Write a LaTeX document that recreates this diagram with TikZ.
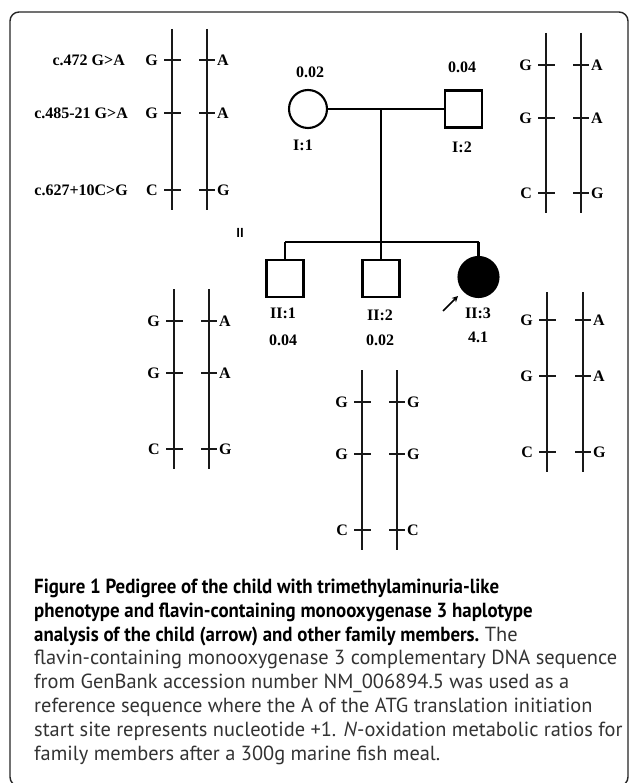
\documentclass[tikz,border=0pt]{standalone}
\usepackage{fontspec}
\usepackage{graphicx}
\setmainfont{Liberation Serif}
\setsansfont{PT Sans}
\usetikzlibrary{arrows.meta}
\newcommand\haplo[6]{%
  \draw[bar] (#2,#4) -- (#2,#5);
  \draw[bar] (#3,#4) -- (#3,#5);
  \foreach \yy/\ll/\rr [count=\k] in {#6} {
    \draw[tickln] (#2-8,\yy) -- (#2+9,\yy);
    \draw[tickln] (#3-8,\yy) -- (#3+8,\yy);
    \node[lab, anchor=east] (#1L\k) at (#2-14,\yy) {\ll};
    \node[lab, anchor=west] (#1R\k) at (#3+10,\yy) {\rr};
  }}
\newcommand\boldline[1]{\scalebox{0.925}[1]{\bfseries\color{black}#1}}
\begin{document}
\begin{tikzpicture}[x=1pt,y=-1pt,
  lab/.style={font=\fontsize{16}{17}\selectfont\bfseries, inner sep=0pt},
  bar/.style={line width=1.9pt, black!90},
  tickln/.style={line width=1.6pt, black!90},
  ped/.style={line width=2.5pt},
  indiv/.style={draw, line width=2.1pt, inner sep=0pt},
  captext/.style={font=\sffamily\fontsize{20.4}{23.8}\selectfont, text=black!80, align=left, inner sep=0pt, anchor=base west}]
\useasboundingbox (0,0) rectangle (629,783);
\fill[white] (0,0) rectangle (629,783);
\draw[line width=1.4pt, black!85, rounded corners=9pt] (10,12) rectangle (628,786);

% mutation labels
\node[lab, anchor=east] (m1) at (125,60) {c.472 G>A};
\node[lab, anchor=east] (m2) at (128,113) {c.485-21 G>A};
\node[lab, anchor=east] (m3) at (128,190) {c.627+10C>G};

% haplotypes
\haplo{ha}{172}{207}{29}{210}{60/G/A, 113/G/A, 190/C/G}
\haplo{hb}{546}{581}{33}{213}{65/G/A, 118/G/A, 193/C/G}
\haplo{hc}{174}{209}{289}{469}{321/G/A, 373/G/A, 449/C/G}
\haplo{hd}{362}{397}{370}{550}{402/G/G, 454/G/G, 530/C/C}
\haplo{he}{547}{583}{292}{472}{320/G/A, 376/G/A, 452/C/G}

% pedigree
\node[indiv, circle, minimum size=38pt] (I1) at (308,109) {};
\node[indiv, minimum size=37pt] (I2) at (463.5,109) {};
\node[indiv, minimum size=37pt] (II1) at (285,278.5) {};
\node[indiv, minimum size=37pt] (II2) at (381,278.5) {};
\node[indiv, circle, fill=black, minimum size=40pt] (II3) at (478.5,277) {};
\coordinate (mate) at (381,109);
\coordinate (sib) at (381,242);
\draw[ped] (I1.east) -- (I2.west);
\draw[ped] (mate) -- (sib);
\draw[ped] (II1 |- sib) -- (II3 |- sib);
\draw[ped] (II1 |- sib) -- (II1.north);
\draw[ped] (II2 |- sib) -- (II2.north);
\draw[ped] (II3 |- sib) -- (II3.north);

\node[lab] (v1) at (310,72) {0.02};
\node[lab] (n1) at (303,145) {I:1};
\node[lab] (v2) at (462,67) {0.04};
\node[lab] (n2) at (462,147) {I:2};
\node[lab] (n3) at (283,313) {II:1};
\node[lab] (v3) at (283,340) {0.04};
\node[lab] (n4) at (380,315) {II:2};
\node[lab] (v4) at (380,340) {0.02};
\node[lab] (n5) at (478,313) {II:3};
\node[lab] (v5) at (478,337) {4.1};
\node[lab, font=\sffamily\bfseries\fontsize{13}{14}\selectfont] (gen) at (240,233) {II};
\coordinate (pa) at (443,311);
\coordinate (pb) at (458,296);
\draw[line width=1.6pt, -{Stealth[length=6pt,width=6pt]}] (pa) -- (pb);

% caption (base anchor = baseline of the last line)
\node[captext] (caption) at (34,760) {\boldline{Figure 1 Pedigree of the child with trimethylaminuria-like}\\
\boldline{phenotype and flavin-containing monooxygenase 3 haplotype}\\
\boldline{analysis of the child (arrow) and other family members.} The\\
flavin-containing monooxygenase 3 complementary DNA sequence\\
from GenBank accession number NM\_006894.5 was used as a\\
reference sequence where the A of the ATG translation initiation\\
start site represents nucleotide +1. \textit{N}-oxidation metabolic ratios for\\
family members after a 300g marine fish meal.};
\end{tikzpicture}
\end{document}
